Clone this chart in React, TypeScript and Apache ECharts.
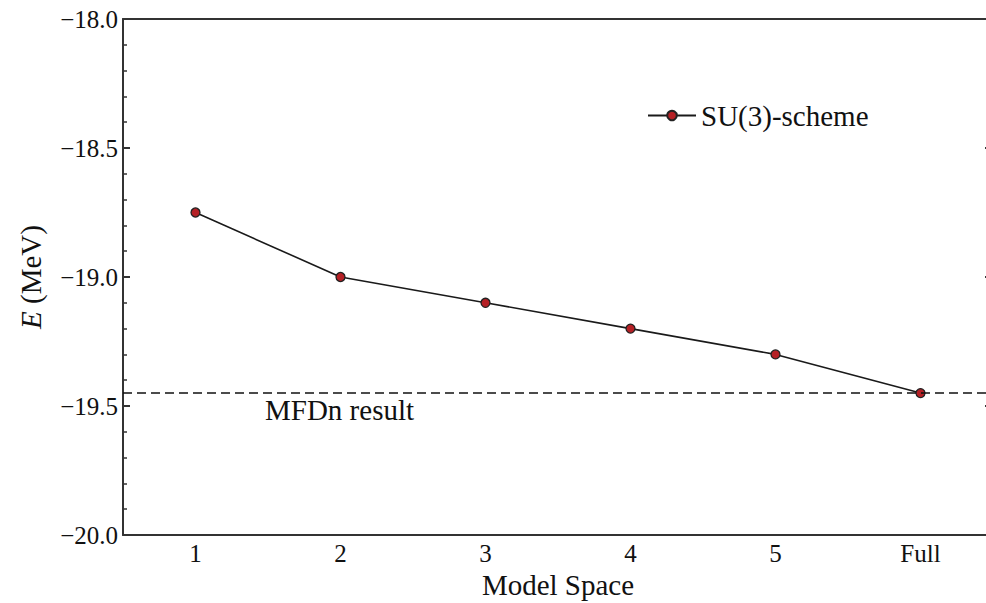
import React, { useEffect, useRef } from "react";
import * as echarts from "echarts";

const categories = ["1", "2", "3", "4", "5", "Full"];
const su3Values = [-18.75, -19.0, -19.1, -19.2, -19.3, -19.45];
const mfdnValue = -19.45;
const yTicks = { min: -20, max: -18, interval: 0.5 };

const FONT = "'Liberation Serif', 'DejaVu Serif', serif";
const AXIS = "#333";

export default function App() {
  const ref = useRef<HTMLDivElement>(null);
  useEffect(() => {
    const chart = echarts.init(ref.current!, null, { renderer: "svg" });
    const fmt = (v: number) => (v < 0 ? "\u2212" : "") + Math.abs(v).toFixed(1);
    chart.setOption({
      animation: false,
      backgroundColor: "#fff",
      grid: { left: 123, width: 870, top: 19, height: 516, outerBoundsMode: "none", containLabel: false },
      legend: {
        data: ["SU(3)-scheme"],
        left: 642,
        top: 96,
        itemWidth: 48,
        itemHeight: 12,
        itemGap: 8,
        textStyle: { fontFamily: FONT, fontSize: 29, color: "#111" },
      },
      xAxis: [
        {
          type: "category",
          data: categories,
          boundaryGap: true,
          position: "bottom",
          name: "Model Space",
          nameLocation: "middle",
          nameGap: 33,
          nameTextStyle: { fontFamily: FONT, fontSize: 29, color: "#111" },
          axisLine: { lineStyle: { color: AXIS, width: 2 } },
          axisTick: { inside: true, alignWithLabel: true, length: 7, lineStyle: { color: AXIS, width: 2 } },
          axisLabel: { fontFamily: FONT, fontSize: 25, color: "#111", margin: 6 },
          splitLine: { show: false },
        },
        {
          type: "category",
          data: categories,
          boundaryGap: true,
          position: "top",
          axisLine: { lineStyle: { color: AXIS, width: 2 } },
          axisTick: { inside: true, alignWithLabel: true, length: 7, lineStyle: { color: AXIS, width: 2 } },
          axisLabel: { show: false },
          splitLine: { show: false },
        },
      ],
      yAxis: [
        {
          type: "value",
          min: yTicks.min,
          max: yTicks.max,
          interval: yTicks.interval,
          position: "left",
          name: "{i|E} (MeV)",
          nameLocation: "middle",
          nameRotate: 90,
          nameGap: 78,
          nameTextStyle: {
            fontFamily: FONT,
            fontSize: 29,
            color: "#111",
            rich: { i: { fontFamily: FONT, fontSize: 29, fontStyle: "italic", color: "#111" } },
          },
          axisLine: { show: true, lineStyle: { color: AXIS, width: 2 } },
          axisTick: { show: true, inside: true, length: 7, lineStyle: { color: AXIS, width: 2 } },
          minorTick: { show: true, splitNumber: 5, length: 4, lineStyle: { color: AXIS, width: 1.5 } },
          axisLabel: { fontFamily: FONT, fontSize: 25, color: "#111", margin: 5, formatter: fmt },
          splitLine: { show: false },
          minorSplitLine: { show: false },
        },
        {
          type: "value",
          min: yTicks.min,
          max: yTicks.max,
          interval: yTicks.interval,
          position: "right",
          axisLine: { show: true, lineStyle: { color: AXIS, width: 2 } },
          axisTick: { show: true, inside: true, length: 8, lineStyle: { color: AXIS, width: 2 } },
          minorTick: { show: true, splitNumber: 5, length: 4, lineStyle: { color: AXIS, width: 1.5 } },
          axisLabel: { show: false },
          splitLine: { show: false },
        },
      ],
      series: [
        {
          name: "SU(3)-scheme",
          type: "line",
          data: su3Values,
          symbol: "circle",
          symbolSize: 9,
          lineStyle: { color: "#1a1a1a", width: 1.6 },
          itemStyle: { color: "#b52025", borderColor: "#222", borderWidth: 1.3 },
          markLine: {
            silent: true,
            symbol: "none",
            label: { show: false },
            lineStyle: { color: "#111", type: [9, 5], width: 1.6 },
            data: [{ yAxis: mfdnValue }],
          },
          z: 3,
        },
      ],
      graphic: [
        {
          type: "text",
          left: 265,
          top: 395,
          style: { text: "MFDn result", fontFamily: FONT, fontSize: 29, fill: "#111" },
        },
      ],
    });
    return () => chart.dispose();
  }, []);
  return <div ref={ref} style={{ width: 986, height: 603, position: "absolute", left: 0, top: 0 }} />;
}
